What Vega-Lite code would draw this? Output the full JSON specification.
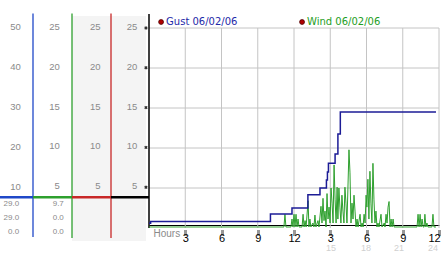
{
  "$schema": "https://vega.github.io/schema/vega-lite/v6.json",
  "background": "white",
  "padding": {"left": 0, "top": 12, "right": 0, "bottom": 0},
  "bounds": "flush",
  "spacing": 0,
  "config": {"view": {"stroke": null}, "text": {"font": "Liberation Sans"}, "axis": {"labelOverlap": false}},
  "datasets": {
    "gust": [
      {"m": 0, "g": 1.2}, {"m": 8, "g": 1.6}, {"m": 603, "g": 3.5}, {"m": 710, "g": 5.0},
      {"m": 789, "g": 8.3}, {"m": 849, "g": 10.0}, {"m": 881, "g": 12.0}, {"m": 886, "g": 14.0},
      {"m": 891, "g": 16.2}, {"m": 924, "g": 18.5}, {"m": 938, "g": 23.5}, {"m": 950, "g": 29.0},
      {"m": 1425, "g": 29.0}
    ],
    "wind": [
      {"m": 0, "v": 0}, {"m": 670, "v": 0}, {"m": 675, "v": 1.6}, {"m": 680, "v": 0}, {"m": 705, "v": 0},
      {"m": 710, "v": 1.0}, {"m": 715, "v": 0}, {"m": 720, "v": 1.6}, {"m": 725, "v": 0}, {"m": 730, "v": 1.6},
      {"m": 735, "v": 0}, {"m": 740, "v": 1.0}, {"m": 745, "v": 0}, {"m": 760, "v": 0}, {"m": 765, "v": 1.6},
      {"m": 770, "v": 0}, {"m": 775, "v": 0.8}, {"m": 780, "v": 0}, {"m": 790, "v": 3.3}, {"m": 794, "v": 0},
      {"m": 799, "v": 1.0}, {"m": 804, "v": 0}, {"m": 814, "v": 0.5}, {"m": 819, "v": 0}, {"m": 824, "v": 1.5},
      {"m": 829, "v": 0}, {"m": 839, "v": 0.8}, {"m": 844, "v": 0}, {"m": 854, "v": 2.6}, {"m": 859, "v": 0.5},
      {"m": 864, "v": 3.6}, {"m": 869, "v": 0.8}, {"m": 874, "v": 2.0}, {"m": 879, "v": 0}, {"m": 884, "v": 4.2},
      {"m": 889, "v": 1.0}, {"m": 894, "v": 2.5}, {"m": 899, "v": 0.5}, {"m": 904, "v": 4.9}, {"m": 909, "v": 3.0},
      {"m": 914, "v": 0.5}, {"m": 919, "v": 7.8}, {"m": 924, "v": 3.5}, {"m": 929, "v": 0.5}, {"m": 934, "v": 5.0},
      {"m": 938, "v": 1.0}, {"m": 943, "v": 4.9}, {"m": 948, "v": 2.5}, {"m": 953, "v": 0.5}, {"m": 958, "v": 4.0},
      {"m": 963, "v": 2.0}, {"m": 968, "v": 0.5}, {"m": 973, "v": 5.0}, {"m": 978, "v": 3.0}, {"m": 983, "v": 0.5},
      {"m": 993, "v": 9.7}, {"m": 998, "v": 6.8}, {"m": 1003, "v": 0.5}, {"m": 1008, "v": 3.0}, {"m": 1013, "v": 1.0},
      {"m": 1018, "v": 4.0}, {"m": 1023, "v": 2.0}, {"m": 1028, "v": 0}, {"m": 1033, "v": 1.0}, {"m": 1038, "v": 0},
      {"m": 1048, "v": 1.6}, {"m": 1053, "v": 0}, {"m": 1058, "v": 0.5}, {"m": 1063, "v": 0}, {"m": 1068, "v": 1.6},
      {"m": 1073, "v": 0.5}, {"m": 1078, "v": 4.0}, {"m": 1082, "v": 2.5}, {"m": 1087, "v": 6.0}, {"m": 1092, "v": 1.0},
      {"m": 1097, "v": 7.0}, {"m": 1102, "v": 3.0}, {"m": 1107, "v": 0.5}, {"m": 1112, "v": 8.0}, {"m": 1117, "v": 3.5},
      {"m": 1122, "v": 0.5}, {"m": 1127, "v": 2.0}, {"m": 1132, "v": 0}, {"m": 1137, "v": 0.5}, {"m": 1142, "v": 0},
      {"m": 1152, "v": 1.6}, {"m": 1157, "v": 0}, {"m": 1168, "v": 0.5}, {"m": 1172, "v": 0}, {"m": 1177, "v": 1.6},
      {"m": 1182, "v": 0.5}, {"m": 1187, "v": 2.5}, {"m": 1192, "v": 3.2}, {"m": 1197, "v": 0}, {"m": 1202, "v": 1.0},
      {"m": 1207, "v": 0}, {"m": 1212, "v": 1.0}, {"m": 1217, "v": 0}, {"m": 1331, "v": 0}, {"m": 1336, "v": 1.6},
      {"m": 1341, "v": 0}, {"m": 1346, "v": 1.6}, {"m": 1351, "v": 0}, {"m": 1356, "v": 1.0}, {"m": 1361, "v": 0},
      {"m": 1366, "v": 0}, {"m": 1370, "v": 1.6}, {"m": 1375, "v": 0}, {"m": 1380, "v": 0.5}, {"m": 1385, "v": 0},
      {"m": 1405, "v": 0}, {"m": 1410, "v": 1.6}, {"m": 1415, "v": 0}, {"m": 1425, "v": 0}
    ]
  },
  "hconcat": [
    {
      "width": 149,
      "height": 225,
      "resolve": {"scale": {"y": "independent"}},
      "layer": [
        {
          "data": {"values": [{"c0": 2, "c1": 3.92, "t": 53, "b": -3.25}]},
          "mark": {"type": "rect", "color": "#f4f4f4"},
          "encoding": {
            "x": {"field": "c0", "type": "quantitative", "scale": {"domain": [0, 1, 2, 3, 4], "range": [0, 33, 72, 111, 149], "nice": false, "zero": false}, "axis": null},
            "x2": {"field": "c1"},
            "y": {"field": "t", "type": "quantitative", "scale": {"domain": [-2.5, 53.75], "nice": false, "zero": false}, "axis": null},
            "y2": {"field": "b"}
          }
        },
        {
          "data": {"values": [
            {"c": 1, "t": 53.6, "b": -2.25, "k": "blue"},
            {"c": 2, "t": 53.6, "b": -2.5, "k": "green"},
            {"c": 3, "t": 53.6, "b": -2.5, "k": "red"}
          ]},
          "mark": {"type": "rule", "strokeWidth": 1.3},
          "encoding": {
            "x": {"field": "c", "type": "quantitative", "scale": {"domain": [0, 1, 2, 3, 4], "range": [0, 33, 72, 111, 149], "nice": false, "zero": false}, "axis": null},
            "y": {"field": "t", "type": "quantitative", "scale": {"domain": [-2.5, 53.75], "nice": false, "zero": false}, "axis": null},
            "y2": {"field": "b"},
            "color": {"field": "k", "type": "nominal", "scale": {"domain": ["blue", "green", "red", "black"], "range": ["#1f48c8", "#2ea02e", "#c82828", "#000000"]}, "legend": null}
          }
        },
        {
          "data": {"values": [
            {"c": 0, "c2": 1, "k": "blue"},
            {"c": 1, "c2": 2, "k": "green"},
            {"c": 2, "c2": 3, "k": "red"},
            {"c": 3, "c2": 4, "k": "black"}
          ]},
          "mark": {"type": "rect"},
          "encoding": {
            "x": {"field": "c", "type": "quantitative", "scale": {"domain": [0, 1, 2, 3, 4], "range": [0, 33, 72, 111, 149], "nice": false, "zero": false}, "axis": null},
            "x2": {"field": "c2"},
            "y": {"datum": 8.01, "type": "quantitative", "scale": {"domain": [-2.5, 53.75], "nice": false, "zero": false}, "axis": null},
            "y2": {"datum": 7.39},
            "color": {"field": "k", "type": "nominal", "scale": {"domain": ["blue", "green", "red", "black"], "range": ["#1f48c8", "#2ea02e", "#c82828", "#000000"]}, "legend": null}
          }
        },
        {
          "data": {"values": [
            {"c": 0.63, "g": 50}, {"c": 0.63, "g": 40}, {"c": 0.63, "g": 30}, {"c": 0.63, "g": 20}, {"c": 0.63, "g": 10}
          ]},
          "mark": {"type": "text", "align": "right", "baseline": "middle", "fontSize": 9.5, "color": "#8a8a8a", "dy": -1},
          "encoding": {
            "x": {"field": "c", "type": "quantitative", "scale": {"domain": [0, 1, 2, 3, 4], "range": [0, 33, 72, 111, 149], "nice": false, "zero": false}, "axis": null},
            "y": {"field": "g", "type": "quantitative", "scale": {"domain": [-2.5, 53.75], "nice": false, "zero": false}, "axis": null},
            "text": {"field": "g", "type": "quantitative"}
          }
        },
        {
          "data": {"values": [
            {"c": 1.69, "w": 25}, {"c": 1.69, "w": 20}, {"c": 1.69, "w": 15}, {"c": 1.69, "w": 10}, {"c": 1.69, "w": 5},
            {"c": 2.73, "w": 25}, {"c": 2.73, "w": 20}, {"c": 2.73, "w": 15}, {"c": 2.73, "w": 10}, {"c": 2.73, "w": 5},
            {"c": 3.69, "w": 25}, {"c": 3.69, "w": 20}, {"c": 3.69, "w": 15}, {"c": 3.69, "w": 10}, {"c": 3.69, "w": 5}
          ]},
          "mark": {"type": "text", "align": "right", "baseline": "middle", "fontSize": 9.5, "color": "#8a8a8a", "dy": -1},
          "encoding": {
            "x": {"field": "c", "type": "quantitative", "scale": {"domain": [0, 1, 2, 3, 4], "range": [0, 33, 72, 111, 149], "nice": false, "zero": false}, "axis": null},
            "y": {"field": "w", "type": "quantitative", "scale": {"domain": [-1.382, 26.884], "nice": false, "zero": false}, "axis": null},
            "text": {"field": "w", "type": "quantitative"}
          }
        },
        {
          "data": {"values": [
            {"c": 3.92, "w": 25}, {"c": 3.92, "w": 20}, {"c": 3.92, "w": 15}, {"c": 3.92, "w": 10}, {"c": 3.92, "w": 5}
          ]},
          "mark": {"type": "point", "shape": "cross", "angle": 45, "filled": true, "size": 12, "color": "#333333", "opacity": 1},
          "encoding": {
            "x": {"field": "c", "type": "quantitative", "scale": {"domain": [0, 1, 2, 3, 4], "range": [0, 33, 72, 111, 149], "nice": false, "zero": false}, "axis": null},
            "y": {"field": "w", "type": "quantitative", "scale": {"domain": [-1.382, 26.884], "nice": false, "zero": false}, "axis": null}
          }
        },
        {
          "data": {"values": [
            {"c": 0.58, "r": 5.9, "t": "29.0"}, {"c": 0.58, "r": 2.5, "t": "29.0"}, {"c": 0.58, "r": -0.9, "t": "0.0"},
            {"c": 1.79, "r": 5.9, "t": "9.7"}, {"c": 1.79, "r": 2.5, "t": "0.0"}, {"c": 1.79, "r": -0.9, "t": "0.0"}
          ]},
          "mark": {"type": "text", "align": "right", "baseline": "middle", "fontSize": 8, "color": "#8a8a8a"},
          "encoding": {
            "x": {"field": "c", "type": "quantitative", "scale": {"domain": [0, 1, 2, 3, 4], "range": [0, 33, 72, 111, 149], "nice": false, "zero": false}, "axis": null},
            "y": {"field": "r", "type": "quantitative", "scale": {"domain": [-2.5, 53.75], "nice": false, "zero": false}, "axis": null},
            "text": {"field": "t", "type": "nominal"}
          }
        }
      ]
    },
    {
      "width": 290,
      "height": 225,
      "resolve": {"scale": {"y": "independent"}},
      "encoding": {
        "x": {
          "field": "m", "type": "quantitative",
          "scale": {"domain": [0, 1440], "nice": false, "zero": false},
          "axis": {
            "values": [0, 180, 360, 540, 720, 900, 1080, 1260, 1440],
            "offset": -13,
            "title": null,
            "grid": false,
            "domainColor": "#000000",
            "domainWidth": 1,
            "tickSize": 10,
            "tickWidth": 3,
            "tickColor": "#333333",
            "tickDash": [0, 5, 1, 1, 1, 1, 1, 0],
            "tickOpacity": {"condition": {"test": "datum.value == 0", "value": 0}, "value": 1},
            "labelExpr": "datum.value == 0 ? 'Hours' : '' + ((datum.value / 60) % 12 == 0 ? 12 : (datum.value / 60) % 12)",
            "labelFont": "Liberation Sans",
            "labelFontSize": {"condition": {"test": "datum.value == 0", "value": 10}, "value": 11},
            "labelColor": {"condition": {"test": "datum.value == 0", "value": "#8a8a8a"}, "value": "#000000"},
            "labelAlign": {"condition": {"test": "datum.value == 0", "value": "left"}, "value": "center"},
            "labelOffset": {"condition": [{"test": "datum.value == 0", "value": 4}, {"test": "datum.value == 1440", "value": -5}], "value": 0},
            "labelPadding": {"condition": {"test": "datum.value == 0", "value": -7}, "value": -3},
            "labelOverlap": false,
            "labelSeparation": 0,
            "labelBound": false,
            "labelFlush": false
          }
        }
      },
      "layer": [
        {
          "data": {"values": [{"m": 180}, {"m": 360}, {"m": 540}, {"m": 720}, {"m": 900}, {"m": 1080}, {"m": 1260}, {"m": 1440}]},
          "mark": {"type": "rule", "color": "#c4c4c4", "strokeWidth": 1},
          "encoding": {
            "y": {"datum": 0, "type": "quantitative", "scale": {"domain": [-2.5, 53.75], "nice": false, "zero": false}, "axis": null},
            "y2": {"datum": 50}
          }
        },
        {
          "data": {"values": [{"g": 10, "m": 0, "m2": 1440}, {"g": 20, "m": 0, "m2": 1440}, {"g": 30, "m": 0, "m2": 1440}, {"g": 40, "m": 0, "m2": 1440}, {"g": 50, "m": 0, "m2": 1440}]},
          "mark": {"type": "rule", "color": "#c4c4c4", "strokeWidth": 1},
          "encoding": {
            "x2": {"field": "m2"},
            "y": {"field": "g", "type": "quantitative", "scale": {"domain": [-2.5, 53.75], "nice": false, "zero": false}, "axis": null}
          }
        },
        {
          "data": {"values": [{"m": 0, "g0": 0, "g1": 53.5}]},
          "mark": {"type": "rule", "color": "#000000", "strokeWidth": 1.5},
          "encoding": {
            "y": {"field": "g0", "type": "quantitative", "scale": {"domain": [-2.5, 53.75], "nice": false, "zero": false}, "axis": null},
            "y2": {"field": "g1"}
          }
        },
        {
          "data": {"name": "wind"},
          "mark": {"type": "line", "color": "#2ea02e", "strokeWidth": 1},
          "encoding": {
            "y": {"field": "v", "type": "quantitative", "scale": {"domain": [-1.382, 26.884], "nice": false, "zero": false}, "axis": null}
          }
        },
        {
          "data": {"name": "gust"},
          "mark": {"type": "line", "interpolate": "step-after", "color": "#1c1c96", "strokeWidth": 1.5},
          "encoding": {
            "y": {"field": "g", "type": "quantitative", "scale": {"domain": [-2.5, 53.75], "nice": false, "zero": false}, "axis": null}
          }
        },
        {
          "data": {"values": [{"m": 60, "g": 51.5}, {"m": 760, "g": 51.5}]},
          "mark": {"type": "point", "shape": "circle", "filled": true, "fill": "#b00000", "stroke": "#500000", "strokeWidth": 0.8, "size": 24, "opacity": 1},
          "encoding": {
            "y": {"field": "g", "type": "quantitative", "scale": {"domain": [-2.5, 53.75], "nice": false, "zero": false}, "axis": null}
          }
        },
        {
          "data": {"values": [{"m": 60, "g": 51.5, "t": "Gust 06/02/06"}]},
          "mark": {"type": "text", "align": "left", "baseline": "middle", "dx": 5, "font": "DejaVu Sans", "fontSize": 10, "color": "#1e2aa8"},
          "encoding": {
            "y": {"field": "g", "type": "quantitative", "scale": {"domain": [-2.5, 53.75], "nice": false, "zero": false}, "axis": null},
            "text": {"field": "t", "type": "nominal"}
          }
        },
        {
          "data": {"values": [{"m": 760, "g": 51.5, "t": "Wind 06/02/06"}]},
          "mark": {"type": "text", "align": "left", "baseline": "middle", "dx": 5, "font": "DejaVu Sans", "fontSize": 10, "color": "#1e9e1e"},
          "encoding": {
            "y": {"field": "g", "type": "quantitative", "scale": {"domain": [-2.5, 53.75], "nice": false, "zero": false}, "axis": null},
            "text": {"field": "t", "type": "nominal"}
          }
        },
        {
          "data": {"values": [{"m": 904, "t": "15"}, {"m": 1077, "t": "18"}, {"m": 1241, "t": "21"}, {"m": 1410, "t": "24"}]},
          "mark": {"type": "text", "align": "center", "baseline": "middle", "fontSize": 9, "color": "#d0d0d0"},
          "encoding": {
            "y": {"datum": -4.9, "type": "quantitative", "scale": {"domain": [-2.5, 53.75], "nice": false, "zero": false}, "axis": null},
            "text": {"field": "t", "type": "nominal"}
          }
        }
      ]
    }
  ]
}
